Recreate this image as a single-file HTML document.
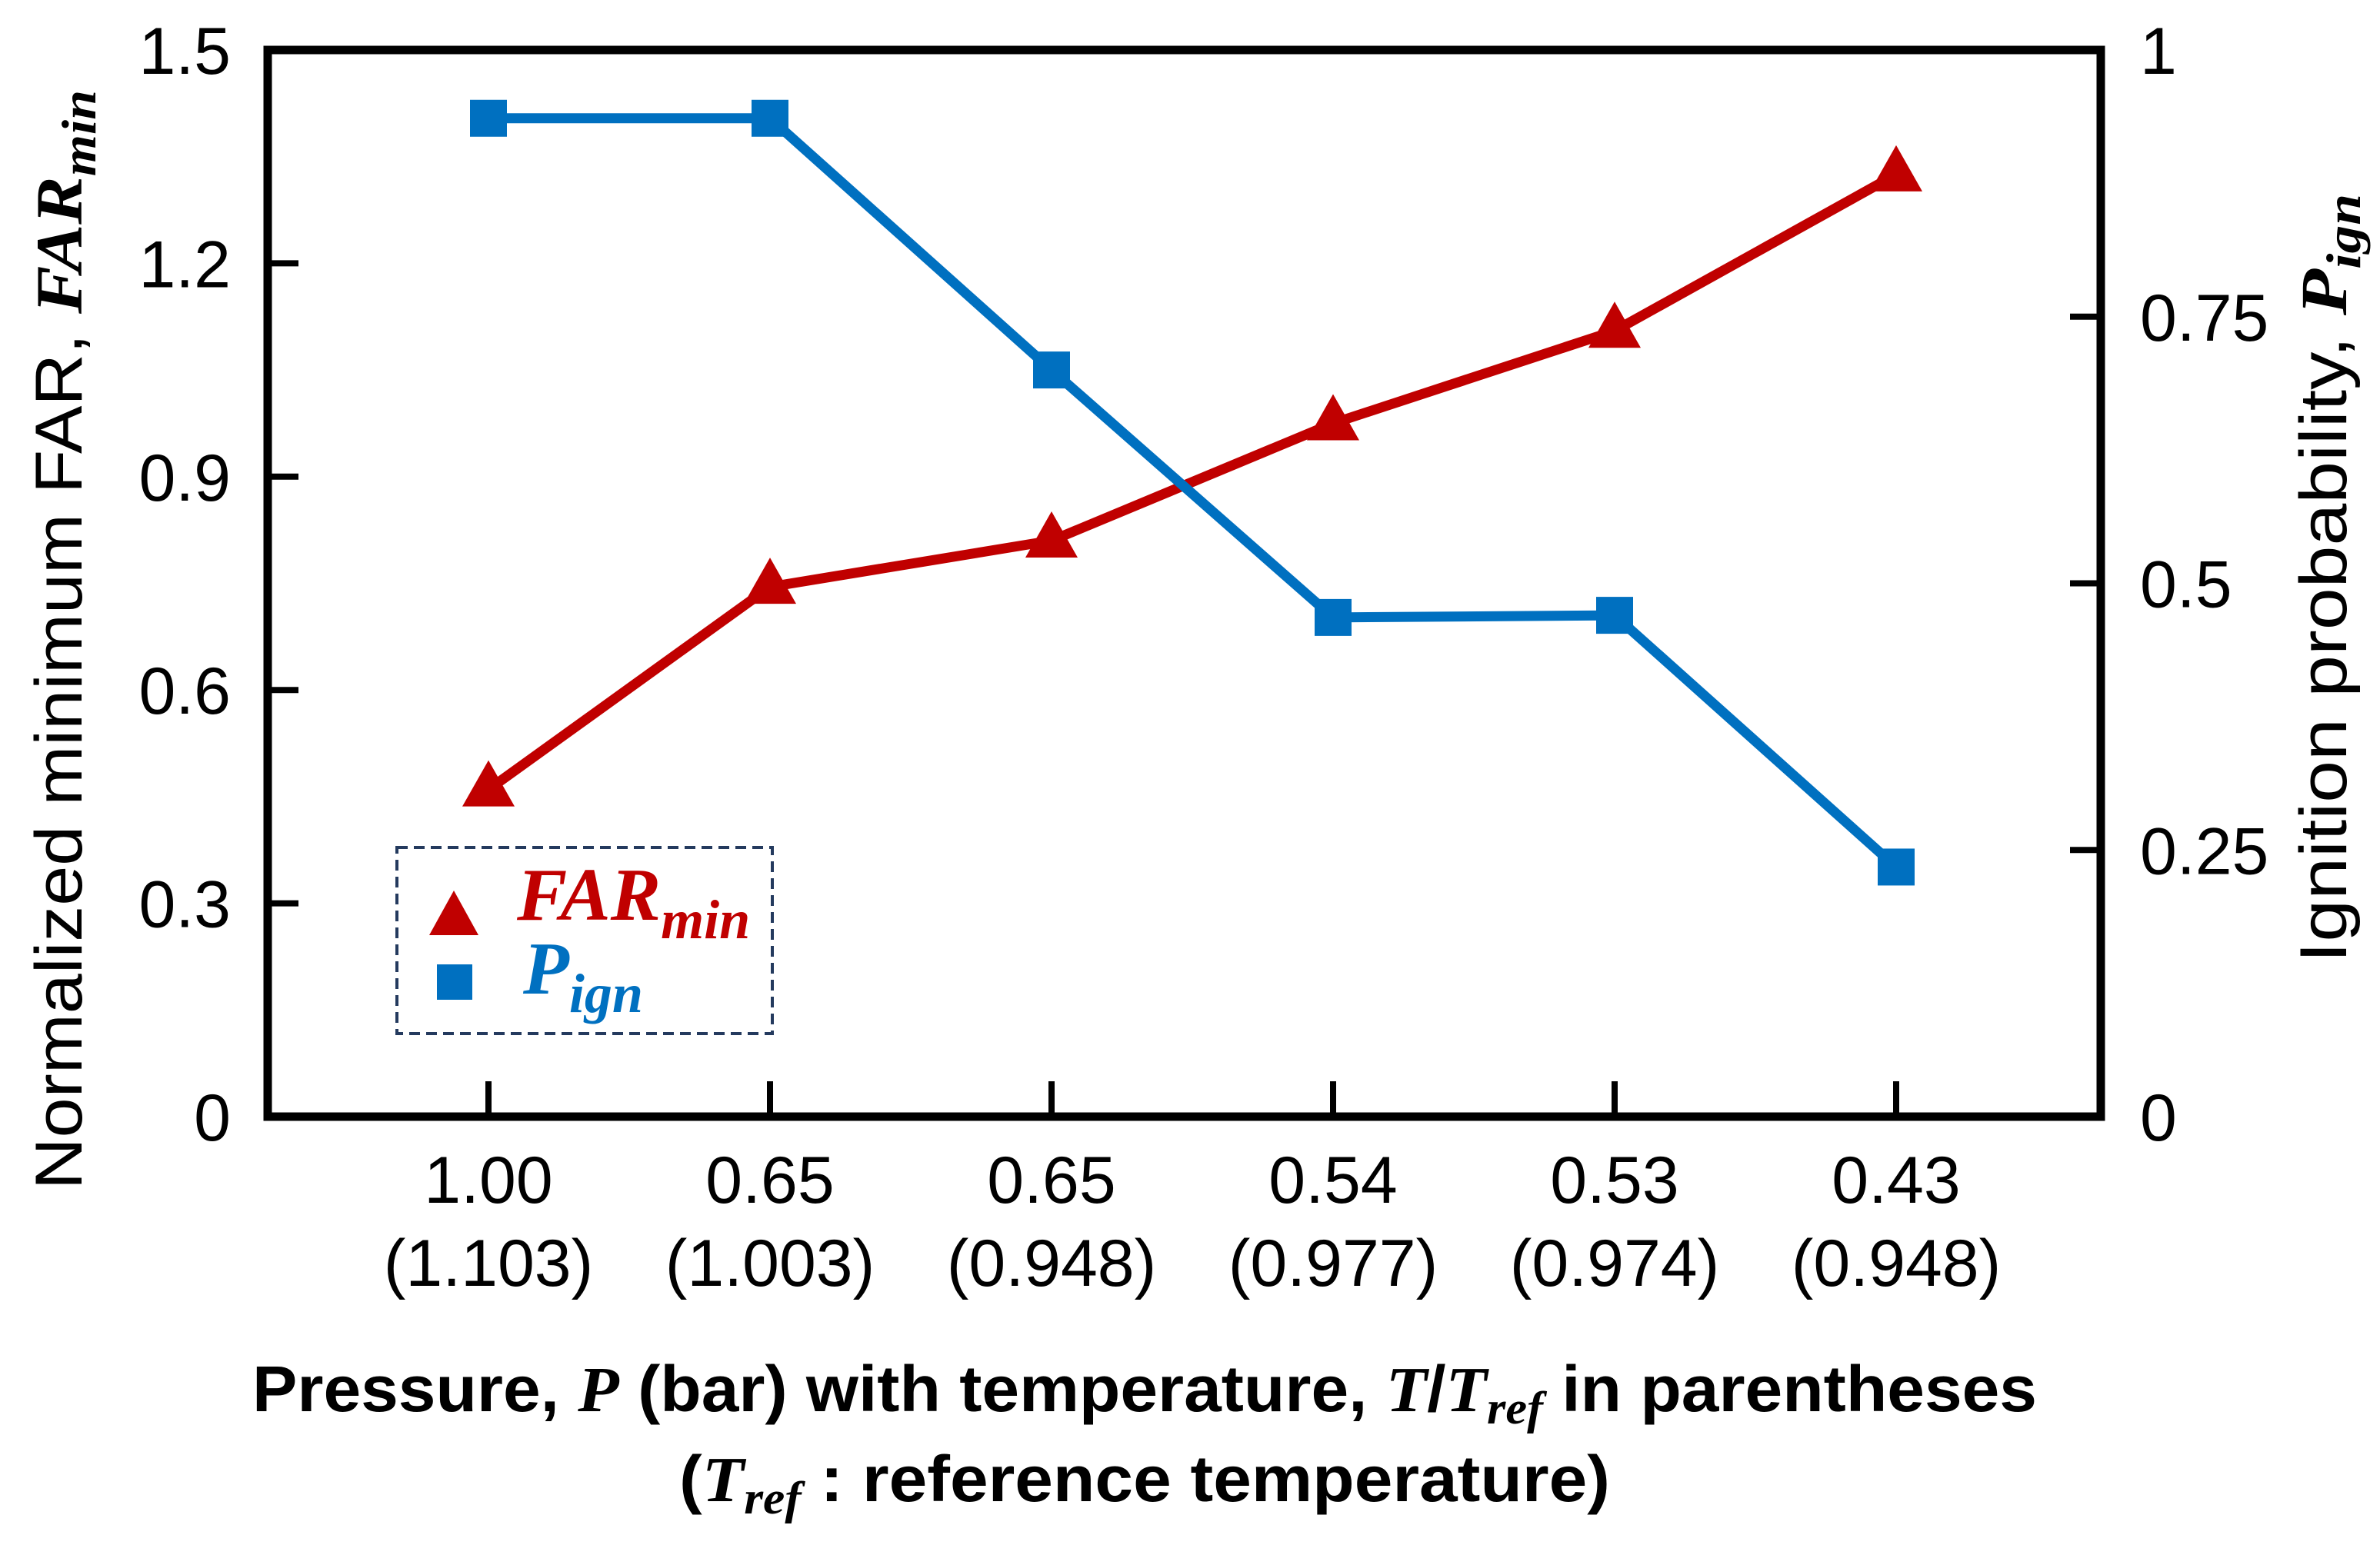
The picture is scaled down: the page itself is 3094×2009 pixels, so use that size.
<!DOCTYPE html>
<html><head><meta charset="utf-8"><style>
html,body{margin:0;padding:0;background:#fff;}
svg{display:block;}
.tk{font-family:"Liberation Sans",sans-serif;font-size:86px;fill:#000;}
.xl{font-family:"Liberation Sans",sans-serif;font-size:86px;fill:#000;}
.tt{font-family:"Liberation Sans",sans-serif;fill:#000;}
.mi{font-family:"Liberation Serif",serif;font-style:italic;font-weight:bold;}
</style></head><body>
<svg id="chart" width="3094" height="2009" viewBox="0 0 3094 2009" xmlns="http://www.w3.org/2000/svg">
<g id="marks"></g>
<g id="axes"></g>
<rect x="516" y="1102" width="488" height="242" fill="none" stroke="#243a5e" stroke-width="4" stroke-dasharray="14,8"/>
<polygon points="590,1158 558,1216 622,1216" fill="#c00000"/>
<rect x="568" y="1254" width="46" height="46" fill="#0070c0"/>
<text x="672" y="1196" class="mi" font-size="98" fill="#c00000">FAR<tspan font-size="72" dy="24">min</tspan></text>
<text x="680" y="1292" class="mi" font-size="98" fill="#0070c0">P<tspan font-size="72" dy="24">ign</tspan></text>
<text transform="translate(106,832) rotate(-90)" text-anchor="middle" class="tt" font-size="86" textLength="1430" lengthAdjust="spacingAndGlyphs">Normalized minimum FAR, <tspan class="mi">FAR</tspan><tspan class="mi" font-size="64" dy="18">min</tspan></text>
<text transform="translate(3050,752) rotate(-90)" text-anchor="middle" class="tt" font-size="86" textLength="1000" lengthAdjust="spacingAndGlyphs">Ignition probability, <tspan class="mi">P</tspan><tspan class="mi" font-size="64" dy="18">ign</tspan></text>
<text x="1488" y="1835" text-anchor="middle" class="tt" font-size="84" font-weight="bold" textLength="2320" lengthAdjust="spacingAndGlyphs">Pressure, <tspan class="mi">P</tspan> (bar) with temperature, <tspan class="mi">T</tspan>/<tspan class="mi">T<tspan font-size="60" dy="16">ref</tspan></tspan><tspan dy="-16"> in parentheses</tspan></text>
<text x="1488" y="1952" text-anchor="middle" class="tt" font-size="84" font-weight="bold" textLength="1210" lengthAdjust="spacingAndGlyphs">(<tspan class="mi">T<tspan font-size="60" dy="16">ref</tspan></tspan><tspan dy="-16"> : reference temperature)</tspan></text>
</svg>
<script>
const categories = ["1.00","0.65","0.65","0.54","0.53","0.43"];
const tempLabels = ["(1.103)","(1.003)","(0.948)","(0.977)","(0.974)","(0.948)"];
const farValues = [0.46, 0.745, 0.81, 0.975, 1.105, 1.325];
const pignValues = [0.936, 0.936, 0.70, 0.468, 0.470, 0.234];
const leftTicks = [0, 0.3, 0.6, 0.9, 1.2, 1.5];
const leftTickLabels = ["0","0.3","0.6","0.9","1.2","1.5"];
const rightTicks = [0, 0.25, 0.5, 0.75, 1];
const rightTickLabels = ["0","0.25","0.5","0.75","1"];

const NS = "http://www.w3.org/2000/svg";
const L = 348, R = 2731, T = 65, B = 1452;
const xScale = i => 635 + i * 366;
const yLeft = v => B - (v / 1.5) * (B - T);
const yRight = v => B - v * (B - T);
const marks = document.getElementById('marks');
const axes = document.getElementById('axes');
function mk(tag, attrs, parent) {
  const e = document.createElementNS(NS, tag);
  for (const k in attrs) e.setAttribute(k, attrs[k]);
  parent.appendChild(e);
  return e;
}
const frame = mk('rect', {x:L, y:T, width:R-L, height:B-T, fill:'none', stroke:'#000', 'stroke-width':11}, axes);


leftTicks.forEach((v, i) => {
  const y = yLeft(v);
  if (i > 0 && i < leftTicks.length - 1) {
    const t = mk('line', {x1:L, x2:L+40, y1:y, y2:y, stroke:'#000', 'stroke-width':8}, axes);
    
    
  }
  const lb = mk('text', {x:300, y:y+31, 'text-anchor':'end', class:'tk'}, axes);
  lb.textContent = leftTickLabels[i];
  
  
});
rightTicks.forEach((v, i) => {
  const y = yRight(v);
  if (i > 0 && i < rightTicks.length - 1) {
    const t = mk('line', {x1:R-40, x2:R, y1:y, y2:y, stroke:'#000', 'stroke-width':8}, axes);
    
    
  }
  const lb = mk('text', {x:2782, y:y+31, 'text-anchor':'start', class:'tk'}, axes);
  lb.textContent = rightTickLabels[i];
  
  
});
categories.forEach((c, i) => {
  const x = xScale(i);
  const t = mk('line', {x1:x, x2:x, y1:B, y2:B-46, stroke:'#000', 'stroke-width':8}, axes);
  
  
  const l1 = mk('text', {x:x, y:1564, 'text-anchor':'middle', class:'xl'}, axes);
  l1.textContent = c;
  
  
  const l2 = mk('text', {x:x, y:1672, 'text-anchor':'middle', class:'xl'}, axes);
  l2.textContent = tempLabels[i];
  
  
});
const farLine = mk('polyline', {points: farValues.map((v,i)=>xScale(i)+','+yLeft(v)).join(' '), fill:'none', stroke:'#c00000', 'stroke-width':13}, marks);


const pLine = mk('polyline', {points: pignValues.map((v,i)=>xScale(i)+','+yRight(v)).join(' '), fill:'none', stroke:'#0070c0', 'stroke-width':13}, marks);


farValues.forEach((v, i) => {
  const x = xScale(i), y = yLeft(v);
  const tri = mk('polygon', {points: `${x},${y-38} ${x-34},${y+22} ${x+34},${y+22}`, fill:'#c00000'}, marks);
  
  
});
pignValues.forEach((v, i) => {
  const x = xScale(i), y = yRight(v);
  const sq = mk('rect', {x:x-24, y:y-24, width:48, height:48, fill:'#0070c0'}, marks);
  
  
});
</script>
</body></html>
